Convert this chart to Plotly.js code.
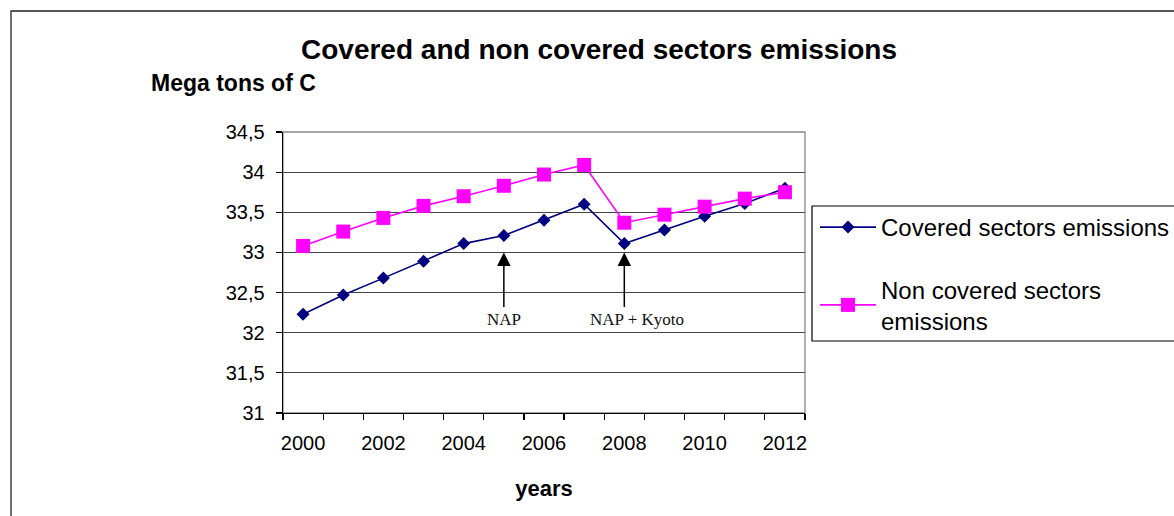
<!DOCTYPE html>
<html>
<head>
<meta charset="utf-8">
<script src="https://cdn.plot.ly/plotly-3.0.1.min.js"></script>
<style>html,body{margin:0;padding:0;background:#fff;}#chart{width:1174px;height:516px;}</style>
</head>
<body>
<div id="chart"></div>
<script>
// ---- data ----
const years = [2000,2001,2002,2003,2004,2005,2006,2007,2008,2009,2010,2011,2012];
const coveredEmissions = [32.23,32.47,32.68,32.89,33.11,33.21,33.40,33.60,33.11,33.28,33.45,33.61,33.80];
const nonCoveredEmissions = [33.08,33.26,33.43,33.58,33.70,33.83,33.97,34.09,33.37,33.47,33.57,33.67,33.75];
const xTickVals = [2000,2002,2004,2006,2008,2010,2012];
const xTickText = ['2000','2002','2004','2006','2008','2010','2012'];
const yTickVals = [31,31.5,32,32.5,33,33.5,34,34.5];
const yTickText = ['31','31,5','32','32,5','33','33,5','34','34,5'];
const seriesNames = ['Covered sectors emissions','Non covered sectors<br>emissions'];
const eventLabels = ['NAP','NAP + Kyoto'];
const eventYears = [2005,2008];
const eventLevel = 33;

// ---- layout geometry (pixels) ----
const W = 1174, H = 516;
const L = 283, R = 805, T = 132, B = 413;
const px = x => (x - L) / (R - L);
const py = y => (B - y) / (B - T);
const FONT = 'Liberation Sans, Arial, sans-serif';

const traces = [
  {x: years, y: coveredEmissions, name: seriesNames[0], type: 'scatter', mode: 'lines+markers',
   legendgroup: 'a',
   line: {color: '#000080', width: 1.6},
   marker: {symbol: 'diamond', size: 10, color: '#000080'}},
  {x: years, y: nonCoveredEmissions, name: seriesNames[1], type: 'scatter', mode: 'lines+markers',
   legendgroup: 'b',
   line: {color: '#FF00FF', width: 1.6},
   marker: {symbol: 'square', size: 14, color: '#FF00FF'}}
];

const annotations = [
  {xref: 'paper', yref: 'paper', x: px(233), y: py(83), text: '<b>Mega tons of C</b>', showarrow: false,
   font: {family: FONT, size: 23, color: '#000'}, xanchor: 'center', yanchor: 'middle'}
];
eventYears.forEach((yr, i) => {
  annotations.push({x: yr, y: eventLevel, xref: 'x', yref: 'y', text: '', showarrow: true,
    ax: 0, ay: 56, arrowhead: 2, arrowsize: 1.8, arrowwidth: 1.5, arrowcolor: '#000', standoff: 0});
  annotations.push({x: yr, y: eventLevel, xref: 'x', yref: 'y', text: eventLabels[i], showarrow: false,
    yshift: -67, xshift: i === 1 ? 13 : 0, xanchor: 'center', yanchor: 'middle',
    font: {family: 'Liberation Serif, Times New Roman, serif', size: 17, color: '#111'}});
});

const shapes = [
  // chart area border
  {type: 'rect', xref: 'paper', yref: 'paper', x0: px(11), x1: px(1200), y0: py(540), y1: py(11),
   line: {color: '#222', width: 1.3}, fillcolor: 'rgba(0,0,0,0)', layer: 'below'},
  // plot area border (gray)
  {type: 'rect', xref: 'paper', yref: 'paper', x0: 0, x1: 1, y0: 0, y1: 1,
   line: {color: '#888', width: 1.3}, fillcolor: 'rgba(0,0,0,0)', layer: 'below'},
  // legend box
  {type: 'rect', xref: 'paper', yref: 'paper', x0: px(812), x1: px(1200), y0: py(341), y1: py(206),
   line: {color: '#000', width: 1.2}, fillcolor: 'rgba(0,0,0,0)'}
];

const layout = {
  width: W, height: H,
  margin: {l: L, r: W - R, t: T, b: H - B, pad: 0, autoexpand: false},
  paper_bgcolor: '#fff', plot_bgcolor: '#fff',
  font: {family: FONT, color: '#000'},
  title: {text: '<b>Covered and non covered sectors emissions</b>', font: {family: FONT, size: 28, color: '#000'},
    x: 599 / W, xref: 'container', xanchor: 'center', y: 1 - 49 / H, yref: 'container', yanchor: 'middle'},
  xaxis: {range: [1999.5, 2012.5], tickvals: xTickVals, ticktext: xTickText, ticks: '',
    ticklabelstandoff: 12, automargin: false,
    minor: {tickvals: years.map(v => v - 0.5).concat([years[years.length - 1] + 0.5]), ticks: 'outside', ticklen: 6, tickwidth: 1.2, tickcolor: '#000', showgrid: false},
    showgrid: false, zeroline: false, showline: true, linecolor: '#000', linewidth: 1.3,
    tickfont: {family: FONT, size: 20, color: '#000'},
    title: {text: '<b>years</b>', font: {family: FONT, size: 22, color: '#000'}, standoff: 27},
    fixedrange: true},
  yaxis: {range: [31, 34.5], tickvals: yTickVals, ticktext: yTickText, ticks: 'outside', ticklen: 6, tickwidth: 1.2,
    tickcolor: '#000', ticklabelstandoff: 7, automargin: false,
    showgrid: true, gridcolor: '#444', gridwidth: 1, zeroline: false, showline: true, linecolor: '#000', linewidth: 1.3,
    tickfont: {family: FONT, size: 20, color: '#000'}, fixedrange: true},
  showlegend: true,
  legend: {x: px(815), y: py(205), xanchor: 'left', yanchor: 'top', bgcolor: 'rgba(0,0,0,0)', borderwidth: 0,
    font: {family: FONT, size: 24, color: '#000'}, traceorder: 'grouped', tracegroupgap: 28, itemwidth: 56},
  annotations: annotations,
  shapes: shapes
};

Plotly.newPlot('chart', traces, layout, {displayModeBar: false, staticPlot: true});
</script>
</body>
</html>
